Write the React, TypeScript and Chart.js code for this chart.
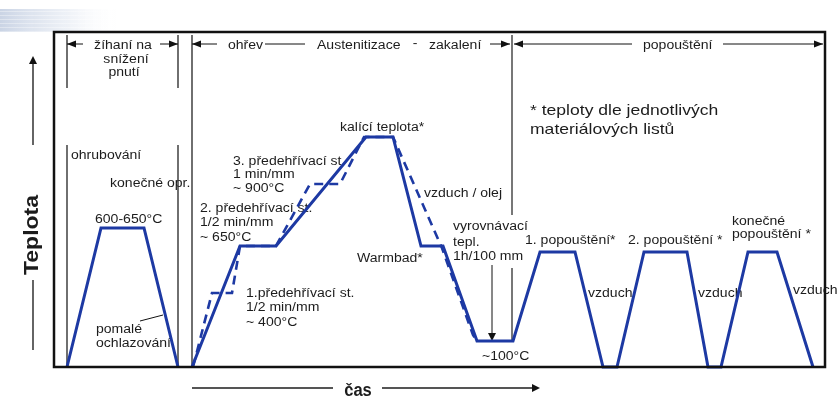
import React, { useEffect, useRef } from "react";
import { Chart, registerables } from "chart.js";

Chart.register(...registerables);

// ---- data (time units, relative temperature units) ----
const annealTime = [13, 47, 90, 124];
const annealTemp = [0, 139, 139, 0];

const processTime = [138, 186, 222, 312, 339, 367, 389, 423, 459, 486, 521, 549, 563, 590, 633, 654, 667, 694, 723, 759];
const processTemp = [0, 121, 121, 230, 230, 121, 121, 26, 26, 115, 115, 0, 0, 115, 115, 0, 0, 115, 115, 0];

const altTime = [139, 158, 178, 186, 222, 256, 286, 310, 339, 388, 419, 423];
const altTemp = [0, 74, 74, 121, 121, 183, 183, 230, 230, 119, 32, 26];

// ---- annotations (text, x, y in data units) ----
const phaseLabels: [string, number, number, string][] = [
  ["žíhaní na", 69, 318, "center"],
  ["snížení", 72, 304, "center"],
  ["pnutí", 70, 291, "center"],
  ["ohřev", 174, 318, "left"],
  ["Austenitizace", 263, 318, "left"],
  ["-", 361, 320, "center"],
  ["zakalení", 375, 318, "left"],
  ["popouštění", 589, 318, "left"],
];

const curveLabels: [string, number, number][] = [
  ["ohrubování", 17, 208],
  ["konečné opr.", 56, 180],
  ["600-650°C", 41, 144],
  ["2. předehřívací st.", 146, 155],
  ["1/2 min/mm", 146, 141],
  ["~ 650°C", 146, 126],
  ["3. předehřívací st.", 179, 202],
  ["1 min/mm", 179, 189],
  ["~ 900°C", 179, 175],
  ["kalící teplota*", 286, 236],
  ["vzduch / olej", 370, 170],
  ["Warmbad*", 303, 105],
  ["1.předehřívací st.", 192, 70],
  ["1/2 min/mm", 192, 56],
  ["~ 400°C", 192, 41],
  ["pomalé", 42, 34],
  ["ochlazování", 42, 20],
  ["vyrovnávací", 399, 137],
  ["tepl.", 399, 121],
  ["1h/100 mm", 399, 107],
  ["~100°C", 428, 7],
  ["1. popouštění*", 471, 123],
  ["2. popouštění *", 574, 123],
  ["konečné", 678, 142],
  ["popouštění *", 678, 129],
  ["vzduch", 534, 70],
  ["vzduch", 644, 70],
  ["vzduch", 739, 73],
];

const noteLines: [string, number, number][] = [
  ["* teploty dle jednotlivých", 476, 252],
  ["materiálových listů", 476, 233],
];

const yTitle = "Teplota";
const xTitle = "čas";

const BLUE = "#1d39a3";
const FONT = '"Liberation Sans", Arial, sans-serif';

function toPts(xs: number[], ys: number[]) {
  return xs.map((x, i) => ({ x, y: ys[i] }));
}

function arrowHead(ctx: CanvasRenderingContext2D, tx: number, ty: number, dx: number, dy: number, len: number, half: number) {
  const bx = tx - dx * len;
  const by = ty - dy * len;
  ctx.beginPath();
  ctx.moveTo(tx, ty);
  ctx.lineTo(bx - dy * half, by + dx * half);
  ctx.lineTo(bx + dy * half, by - dx * half);
  ctx.closePath();
  ctx.fill();
}

const decorPlugin = {
  id: "decor",
  beforeDraw(chart: any) {
    const ctx: CanvasRenderingContext2D = chart.ctx;
    ctx.save();
    const g = ctx.createLinearGradient(0, 0, 120, 0);
    g.addColorStop(0, "rgba(180,194,218,0.7)");
    g.addColorStop(0.55, "rgba(215,223,236,0.45)");
    g.addColorStop(1, "rgba(255,255,255,0)");
    ctx.fillStyle = g;
    ctx.fillRect(0, 9, 120, 23);
    ctx.fillStyle = "rgba(255,255,255,0.35)";
    for (let y = 11; y < 32; y += 4) ctx.fillRect(0, y, 120, 1);
    ctx.restore();
  },
  beforeDatasetsDraw(chart: any) {
    const ctx: CanvasRenderingContext2D = chart.ctx;
    const xs = chart.scales.x;
    const ys = chart.scales.y;
    const X = (v: number) => xs.getPixelForValue(v);
    const Y = (v: number) => ys.getPixelForValue(v);
    const line = (x1: number, y1: number, x2: number, y2: number) => {
      ctx.beginPath();
      ctx.moveTo(X(x1), Y(y1));
      ctx.lineTo(X(x2), Y(y2));
      ctx.stroke();
    };
    ctx.save();
    // phase separators
    ctx.strokeStyle = "#222";
    ctx.lineWidth = 1.3;
    line(13, 332, 13, 279);
    line(13, 222, 13, 0);
    line(124, 332, 124, 279);
    line(124, 222, 124, 0);
    line(138, 332, 138, 0);
    ctx.strokeStyle = "#555";
    ctx.lineWidth = 1.6;
    line(458, 332, 458, 152);
    line(458, 99, 458, 26);

    // top phase arrows
    ctx.strokeStyle = "#111";
    ctx.fillStyle = "#111";
    ctx.lineWidth = 1;
    line(13, 323, 29, 323);
    arrowHead(ctx, X(13), Y(323), -1, 0, 9, 3.5);
    line(106, 323, 124, 323);
    arrowHead(ctx, X(124), Y(323), 1, 0, 9, 3.5);
    line(138, 323, 163, 323);
    arrowHead(ctx, X(138), Y(323), -1, 0, 9, 3.5);
    line(211, 323, 251, 323);
    line(436, 323, 456, 323);
    arrowHead(ctx, X(456), Y(323), 1, 0, 9, 3.5);
    line(460, 323, 578, 323);
    arrowHead(ctx, X(460), Y(323), -1, 0, 9, 3.5);
    line(669, 323, 769, 323);
    arrowHead(ctx, X(769), Y(323), 1, 0, 9, 3.5);

    // down arrow to ~100°C
    line(438, 102, 438, 32);
    arrowHead(ctx, X(438), Y(26), 0, 1, 8, 4);
    // leader line for pomalé ochlazování
    line(86, 46, 109, 52);

    // y-axis arrow (outside area)
    ctx.lineWidth = 1.3;
    line(-21, 222, -21, 305);
    arrowHead(ctx, X(-21), Y(311), 0, -1, 8, 4);
    line(-21, 87, -21, 17);

    // x-axis arrow
    ctx.strokeStyle = "#555";
    ctx.fillStyle = "#111";
    ctx.lineWidth = 2;
    line(138, -21, 279, -21);
    line(328, -21, 481, -21);
    arrowHead(ctx, X(486), Y(-21), 1, 0, 8, 4);

    // texts
    ctx.fillStyle = "#1c1c1c";
    ctx.textBaseline = "alphabetic";
    const text = (t: string, x: number, y: number, size: number, align: string, sx = 1.17, weight = "") => {
      ctx.save();
      ctx.font = `${weight} ${size}px ${FONT}`;
      ctx.textAlign = align as CanvasTextAlign;
      ctx.translate(X(x), Y(y));
      ctx.scale(sx, 1);
      ctx.fillText(t, 0, 0);
      ctx.restore();
    };
    phaseLabels.forEach(([t, x, y, a]) => text(t, x, y, 12, a));
    curveLabels.forEach(([t, x, y]) => text(t, x, y, 12, "left"));
    noteLines.forEach(([t, x, y]) => text(t, x, y, 15, "left"));

    // axis titles
    ctx.save();
    ctx.font = `bold 20px ${FONT}`;
    ctx.textAlign = "center";
    ctx.translate(X(-16), Y(132));
    ctx.rotate(-Math.PI / 2);
    ctx.scale(1.15, 1);
    ctx.fillText(yTitle, 0, 0);
    ctx.restore();
    text(xTitle, 304, -29, 18, "center", 0.92, "bold");

    ctx.restore();
  },
  afterDraw(chart: any) {
    const ctx: CanvasRenderingContext2D = chart.ctx;
    const a = chart.chartArea;
    ctx.save();
    ctx.strokeStyle = "#111";
    ctx.lineWidth = 2.5;
    ctx.strokeRect(a.left, a.top, a.right - a.left, a.bottom - a.top);
    ctx.restore();
  },
};

export default function App() {
  const ref = useRef<HTMLCanvasElement | null>(null);
  useEffect(() => {
    document.body.style.margin = "0";
    if (!ref.current) return;
    const common = { showLine: true, pointRadius: 0, tension: 0, clip: false as any, fill: false };
    const chart = new Chart(ref.current, {
      type: "scatter",
      data: {
        datasets: [
          { ...common, label: "žíhání", data: toPts(annealTime, annealTemp), borderColor: BLUE, borderWidth: 3 },
          { ...common, label: "kalení a popouštění", data: toPts(processTime, processTemp), borderColor: BLUE, borderWidth: 3 },
          { ...common, label: "varianta", data: toPts(altTime, altTemp), borderColor: BLUE, borderWidth: 2.6, borderDash: [9, 6] },
        ],
      },
      options: {
        responsive: false,
        animation: false,
        layout: { padding: { left: 54, right: 15, top: 32, bottom: 30 } },
        plugins: { legend: { display: false }, tooltip: { enabled: false } },
        scales: {
          x: { type: "linear", min: 0, max: 771, display: false },
          y: { type: "linear", min: 0, max: 335, display: false },
        },
      },
      plugins: [decorPlugin],
    });
    return () => chart.destroy();
  }, []);
  return (
    <div style={{ width: 840, height: 397, background: "#fff" }}>
      <canvas ref={ref} width={840} height={397} />
    </div>
  );
}
